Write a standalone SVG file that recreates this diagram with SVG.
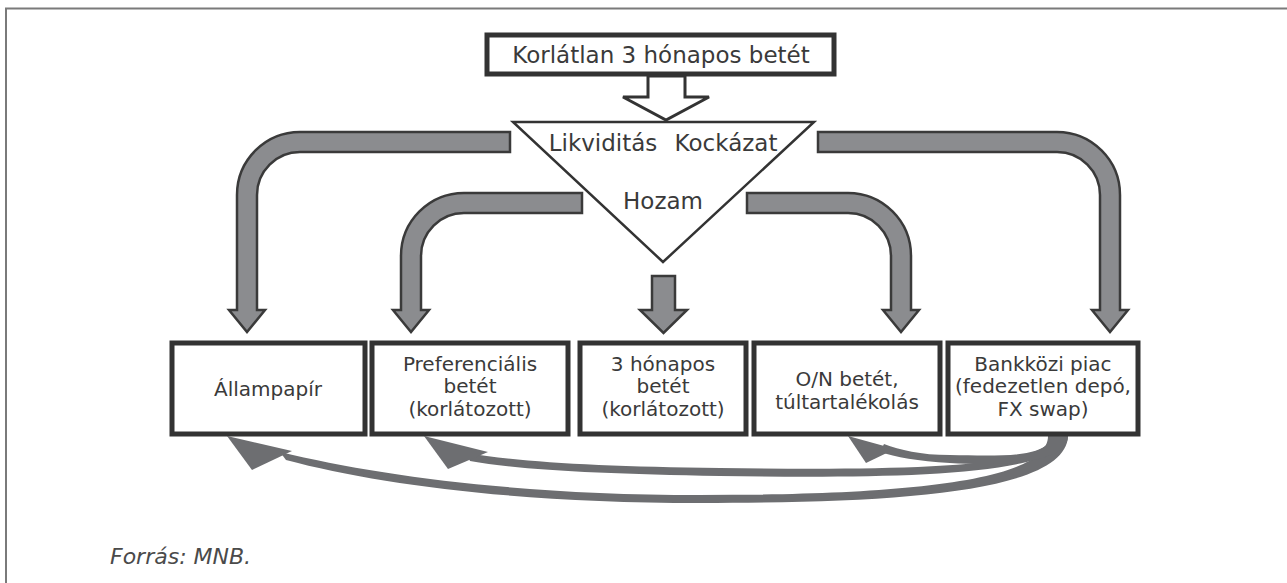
<svg xmlns="http://www.w3.org/2000/svg" width="1287" height="583" viewBox="0 0 1287 583">
<style>
.frame{fill:none;stroke:#7a7a7a;stroke-width:2}
.box{fill:#fff;stroke:#333;stroke-width:5}
.t{font-family:"DejaVu Sans",Verdana,sans-serif;font-size:22px;fill:#3a3a3a;text-anchor:middle}
.bt{font-family:"DejaVu Sans",Verdana,sans-serif;font-size:20px;fill:#3a3a3a;text-anchor:middle}
.ga{fill:#8b8c8f;stroke:#3a3a3a;stroke-width:2.5;stroke-linejoin:miter}
.ba{fill:#6d6e71;stroke:none}
.src{font-family:"DejaVu Sans",Verdana,sans-serif;font-size:22px;font-style:italic;fill:#4a4a4a}
</style>
<rect width="1287" height="583" fill="#fff"/>
<path class="frame" d="M6,583 V8.5 H1287"/>

<g id="top-box">
<rect class="box" x="487" y="35" width="347" height="39"/>
<text class="t" x="661" y="63" style="font-size:23px">Korlátlan 3 hónapos betét</text>
</g>

<g id="filter-triangle">
<polygon points="513,122 814,122 663,262" fill="#fff" stroke="#333" stroke-width="2.5"/>
<text class="t" x="603" y="151" style="font-size:23px">Likviditás</text>
<text class="t" x="726" y="151" style="font-size:23px">Kockázat</text>
<text class="t" x="663" y="209" style="font-size:23px">Hozam</text>
</g>

<g id="connectors">
<polygon points="648,76 685,76 685,97 709,97 666,120 623,97 648,97" fill="#fff" stroke="#333" stroke-width="3"/>
<path class="ga" d="M510,132 H300 A63,63 0 0 0 237,195 V310 H229 L247,332 L265,310 H257 V195 A43,43 0 0 1 300,152 H510 Z"/>
<path class="ga" d="M582,193 H464 A63,63 0 0 0 401,256 V310 H393 L411,332 L429,310 H421 V256 A43,43 0 0 1 464,213 H582 Z"/>
<path class="ga" d="M747,193 H848 A63,63 0 0 1 911,256 V310 H919 L901,332 L883,310 H891 V256 A43,43 0 0 0 848,213 H747 Z"/>
<path class="ga" d="M818,132 H1057 A63,63 0 0 1 1120,195 V310 H1128 L1110,332 L1092,310 H1100 V195 A43,43 0 0 0 1057,152 H818 Z"/>
<path class="ga" d="M652,276 H675 V310 H687 L663.5,333 L640,310 H652 Z"/>

<path class="ba" d="M1068,436 C1066,492 900,503 700,503 C520,503 380,485 286,460 L280,452 C380,476 520,495 700,495 C880,495 1048,485 1048,436 Z"/>
<polygon class="ba" points="227,436 292,451 252,470"/>
<path class="ba" d="M1066,436 C1062,478 880,478 720,476 C600,474 520,470 470,461 L466,453 C520,462 600,467 720,468 C880,470 1050,470 1052,436 Z"/>
<polygon class="ba" points="424,436 488,452 448,469"/>
<path class="ba" d="M1068,436 C1068,464 1000,466 950,463 C918,461 895,457 880,452 L884,444 C900,450 920,455 950,455 C1000,456 1050,458 1050,436 Z"/>
<polygon class="ba" points="848,436 895,449 866,463"/>
</g>

<g id="box-allampapir">
<rect class="box" x="172" y="343" width="193" height="91"/>
<text class="bt" x="268" y="396">Állampapír</text>
</g>
<g id="box-preferencialis">
<rect class="box" x="372" y="343" width="196" height="91"/>
<text class="bt" x="470" y="371">Preferenciális</text>
<text class="bt" x="470" y="393">betét</text>
<text class="bt" x="470" y="416">(korlátozott)</text>
</g>
<g id="box-3honapos">
<rect class="box" x="580" y="343" width="166" height="91"/>
<text class="bt" x="663" y="371">3 hónapos</text>
<text class="bt" x="663" y="393">betét</text>
<text class="bt" x="663" y="416">(korlátozott)</text>
</g>
<g id="box-on">
<rect class="box" x="754" y="343" width="186" height="91"/>
<text class="bt" x="847" y="386">O/N betét,</text>
<text class="bt" x="847" y="409">túltartalékolás</text>
</g>
<g id="box-bankkozi">
<rect class="box" x="948" y="343" width="190" height="91"/>
<text class="bt" x="1043" y="371">Bankközi piac</text>
<text class="bt" x="1043" y="393">(fedezetlen depó,</text>
<text class="bt" x="1043" y="416">FX swap)</text>
</g>

<text class="src" x="110" y="564">Forrás: MNB.</text>
</svg>
